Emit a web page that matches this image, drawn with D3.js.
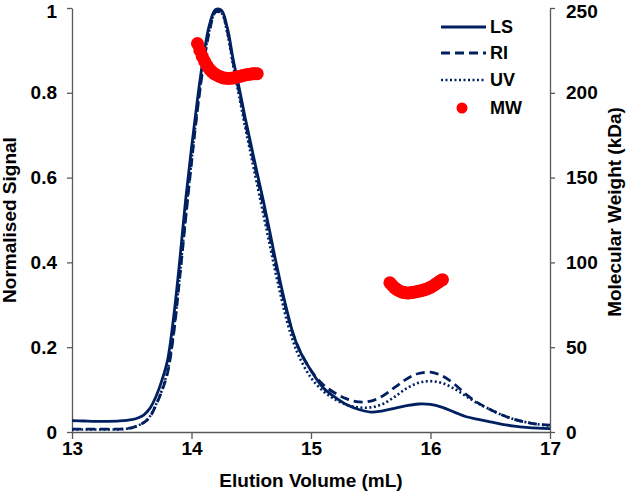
<!DOCTYPE html>
<html>
<head>
<meta charset="utf-8">
<script src="https://d3js.org/d3.v7.min.js"></script>
<style>
  body { margin: 0; background: #ffffff; }
  text { font-family: "Liberation Sans", Arial, sans-serif; font-weight: bold; fill: #000000; }
  .axis path, .axis line { stroke: #595959; stroke-width: 1.3px; }
  .axis text { font-size: 19px; font-weight: bold; }
</style>
</head>
<body>
<div id="chart"></div>
<script>

// elution volume grid (mL), finer across the main peak
const volume = [13.0, 13.1, 13.2, 13.3, 13.4, 13.5,
  13.55, 13.6, 13.65, 13.7, 13.75, 13.8, 13.85, 13.9, 13.95,
  14.0, 14.05, 14.1, 14.15, 14.2, 14.25, 14.3, 14.35, 14.4, 14.45,
  14.5, 14.55, 14.6, 14.65, 14.7, 14.75, 14.8, 14.85, 14.9,
  15.0, 15.1, 15.2, 15.3, 15.4, 15.5, 15.6, 15.7, 15.8, 15.9,
  16.0, 16.1, 16.2, 16.3, 16.4, 16.5, 16.6, 16.7, 16.8, 16.9, 17.0];

// normalised detector signals
const ls = [0.027, 0.026, 0.025, 0.025, 0.026, 0.029,
  0.033, 0.040, 0.055, 0.082, 0.120, 0.170, 0.270, 0.400, 0.545,
  0.670, 0.785, 0.885, 0.960, 0.996, 0.995, 0.953, 0.877, 0.810, 0.740,
  0.675, 0.610, 0.547, 0.480, 0.410, 0.345, 0.285, 0.232, 0.195,
  0.145, 0.105, 0.082, 0.064, 0.053, 0.047, 0.050, 0.056, 0.062, 0.066,
  0.065, 0.058, 0.047, 0.036, 0.030, 0.024, 0.018, 0.014, 0.011, 0.009, 0.008];
const ri = [0.007, 0.007, 0.007, 0.007, 0.007, 0.010,
  0.015, 0.022, 0.035, 0.062, 0.095, 0.140, 0.230, 0.360, 0.500,
  0.635, 0.760, 0.865, 0.945, 0.990, 0.990, 0.945, 0.870, 0.800, 0.730,
  0.665, 0.600, 0.535, 0.468, 0.400, 0.337, 0.280, 0.232, 0.196,
  0.145, 0.112, 0.092, 0.078, 0.071, 0.073, 0.085, 0.105, 0.125, 0.138,
  0.141, 0.132, 0.113, 0.088, 0.068, 0.053, 0.040, 0.030, 0.023, 0.018, 0.016];
const uv = [0.006, 0.006, 0.006, 0.006, 0.006, 0.010,
  0.015, 0.022, 0.036, 0.063, 0.097, 0.145, 0.235, 0.365, 0.505,
  0.640, 0.765, 0.870, 0.948, 0.990, 0.988, 0.940, 0.862, 0.790, 0.718,
  0.650, 0.582, 0.515, 0.448, 0.380, 0.318, 0.260, 0.214, 0.178,
  0.128, 0.097, 0.077, 0.064, 0.058, 0.058, 0.066, 0.083, 0.103, 0.116,
  0.120, 0.115, 0.102, 0.084, 0.067, 0.053, 0.040, 0.030, 0.023, 0.018, 0.015];

// molecular weight (kDa) across the two peaks
const mwVolume = [14.05, 14.07, 14.09, 14.11, 14.13, 14.15, 14.17, 14.19, 14.21, 14.23,
  14.25, 14.27, 14.29, 14.31, 14.33, 14.35, 14.37, 14.39, 14.41, 14.43,
  14.45, 14.47, 14.49, 14.51, 14.53, 14.55,
  15.66, 15.68, 15.70, 15.72, 15.74, 15.76, 15.78, 15.80, 15.82, 15.84,
  15.86, 15.88, 15.90, 15.92, 15.94, 15.96, 15.98, 16.00, 16.02, 16.04,
  16.06, 16.08, 16.10];
const mw = [229, 225, 221.5, 218.5, 216, 214, 212.5, 211.3, 210.5, 209.8,
  209.2, 208.8, 208.6, 208.5, 208.6, 208.8, 209.1, 209.4, 209.8, 210.2,
  210.5, 210.8, 211, 211.2, 211.3, 211.3,
  88, 86.5, 85, 84, 83.2, 82.6, 82.2, 82, 82, 82.2,
  82.4, 82.7, 83, 83.3, 83.7, 84.1, 84.6, 85.3, 86.1, 87,
  88, 89, 89.8];

const xTicks = [13, 14, 15, 16, 17];
const yTicks = [0, 0.2, 0.4, 0.6, 0.8, 1];
const y2Ticks = [0, 50, 100, 150, 200, 250];

const width = 633, height = 492;
const margin = {top: 8, right: 83, bottom: 60, left: 72};

const svg = d3.select("#chart")
  .append("svg")
  .attr("width", width)
  .attr("height", height);

const x = d3.scaleLinear().domain([13, 17]).range([margin.left, width - margin.right]);
const y = d3.scaleLinear().domain([0, 1]).range([height - margin.bottom, margin.top]);
const y2 = d3.scaleLinear().domain([0, 250]).range([height - margin.bottom, margin.top]);

// axes
svg.append("g")
  .attr("class", "axis")
  .attr("transform", `translate(0, ${height - margin.bottom})`)
  .call(d3.axisBottom(x).tickValues(xTicks).tickFormat(d3.format("d")).tickSize(7).tickSizeOuter(0).tickPadding(6));

svg.append("g")
  .attr("class", "axis")
  .attr("transform", `translate(${margin.left}, 0)`)
  .call(d3.axisLeft(y).tickValues(yTicks).tickFormat(d3.format("~g")).tickSize(5).tickSizeOuter(0).tickPadding(10));

svg.append("g")
  .attr("class", "axis")
  .attr("transform", `translate(${width - margin.right}, 0)`)
  .call(d3.axisRight(y2).tickValues(y2Ticks).tickSize(5).tickSizeOuter(0).tickPadding(11));

// keep the top tick labels inside the picture
svg.selectAll(".axis .tick text")
  .filter(function() { return +d3.select(this.parentNode).attr("transform").match(/,\s*([\d.]+)/)[1] < 12; })
  .attr("dy", "0.5em");

// axis titles
svg.append("text")
  .attr("x", (margin.left + width - margin.right) / 2)
  .attr("y", 487)
  .attr("text-anchor", "middle")
  .style("font-size", "19px")
  .text("Elution Volume (mL)");

svg.append("text")
  .attr("transform", "translate(16, 220) rotate(-90)")
  .attr("text-anchor", "middle")
  .style("font-size", "19px")
  .text("Normalised Signal");

svg.append("text")
  .attr("transform", "translate(621, 212) rotate(-90)")
  .attr("text-anchor", "middle")
  .style("font-size", "19px")
  .text("Molecular Weight (kDa)");

// signal curves
const series = [
  {name: "LS", values: ls, dash: null, w: 2.8},
  {name: "RI", values: ri, dash: "9,5", w: 2.8},
  {name: "UV", values: uv, dash: "2,2.5", w: 2.6}
];

const line = d3.line()
  .x((d, i) => x(volume[i]))
  .y(d => y(d))
  .curve(d3.curveCatmullRom);

svg.selectAll("path.signal")
  .data(series)
  .join("path")
    .attr("class", "signal")
    .attr("d", d => line(d.values))
    .attr("fill", "none")
    .attr("stroke", "#002060")
    .attr("stroke-width", d => d.w)
    .attr("stroke-dasharray", d => d.dash);

// molecular weight points
svg.selectAll("circle.mw")
  .data(mw)
  .join("circle")
    .attr("class", "mw")
    .attr("cx", (d, i) => x(mwVolume[i]))
    .attr("cy", d => y2(d))
    .attr("r", 6.5)
    .attr("fill", "#ff0000");

// legend
const legend = svg.append("g");
const legendY = [27, 53, 80, 108];

series.forEach((s, i) => {
  legend.append("line")
    .attr("x1", 441).attr("x2", 486)
    .attr("y1", legendY[i]).attr("y2", legendY[i])
    .attr("stroke", "#002060")
    .attr("stroke-width", s.w)
    .attr("stroke-dasharray", s.dash);
  legend.append("text")
    .attr("x", 490)
    .attr("y", legendY[i])
    .attr("dy", "0.35em")
    .style("font-size", "18px")
    .text(s.name);
});

legend.append("circle")
  .attr("cx", 462).attr("cy", legendY[3])
  .attr("r", 5.5)
  .attr("fill", "#ff0000");
legend.append("text")
  .attr("x", 490)
  .attr("y", legendY[3])
  .attr("dy", "0.35em")
  .style("font-size", "18px")
  .text("MW");

</script>
</body>
</html>
